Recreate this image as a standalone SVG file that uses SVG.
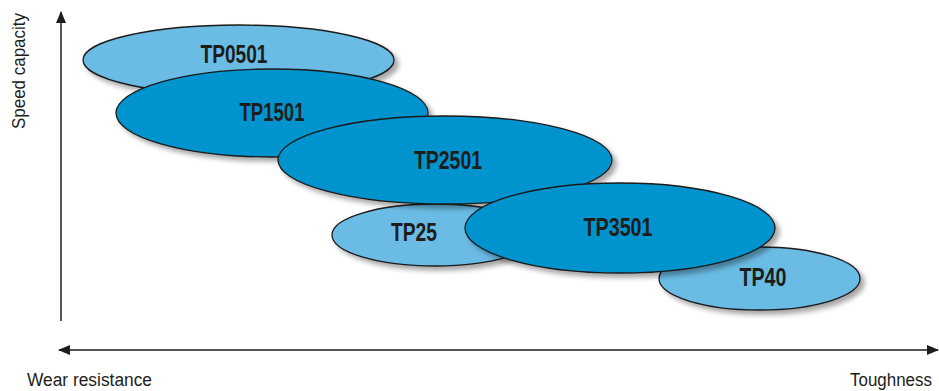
<svg xmlns="http://www.w3.org/2000/svg" width="939" height="391" viewBox="0 0 939 391">
<style>
.light{fill:#6bbce5;stroke:#1a1a1a;stroke-width:1.3}
.dark{fill:#0094cf;stroke:#1a1a1a;stroke-width:1.3}
.lbl{font-family:"Liberation Sans",Arial,sans-serif;font-weight:bold;font-size:25px;fill:#1d1d1b;text-anchor:middle}
.ax{font-family:"Liberation Sans",Arial,sans-serif;font-size:18px;fill:#1d1d1b}
.axis{stroke:#1d1d1b;stroke-width:1.5;fill:none}
</style>
<defs>
<filter id="sh" x="-10%" y="-20%" width="125%" height="150%">
<feDropShadow dx="4" dy="4" stdDeviation="2.5" flood-color="#000" flood-opacity="0.35"/>
</filter>
<marker id="ah" viewBox="0 0 12 10" refX="11" refY="5" markerWidth="12" markerHeight="10" markerUnits="userSpaceOnUse" orient="auto-start-reverse">
<path d="M0,0 L12,5 L0,10 Z" fill="#1d1d1b"/>
</marker>
</defs>
<g id="connectors">
<line class="axis" x1="61" y1="321" x2="61" y2="12" marker-end="url(#ah)"/>
<line class="axis" x1="59" y1="350" x2="938" y2="350" marker-start="url(#ah)" marker-end="url(#ah)"/>
</g>
<text class="ax" transform="translate(25,129) rotate(-90)" textLength="116" lengthAdjust="spacingAndGlyphs">Speed capacity</text>
<text class="ax" x="27" y="386" textLength="125" lengthAdjust="spacingAndGlyphs">Wear resistance</text>
<text class="ax" x="850" y="386" textLength="82" lengthAdjust="spacingAndGlyphs">Toughness</text>
<g id="TP0501">
<ellipse class="light" filter="url(#sh)" cx="238.5" cy="60" rx="155.5" ry="35"/>
<text class="lbl" x="234" y="63" textLength="67" lengthAdjust="spacingAndGlyphs">TP0501</text>
</g>
<g id="TP1501">
<ellipse class="dark" filter="url(#sh)" cx="272" cy="113" rx="156" ry="44"/>
<text class="lbl" x="272" y="121" textLength="65" lengthAdjust="spacingAndGlyphs">TP1501</text>
</g>
<g id="TP25">
<ellipse class="light" filter="url(#sh)" cx="435" cy="235" rx="103" ry="31"/>
<text class="lbl" x="414" y="241" textLength="46" lengthAdjust="spacingAndGlyphs">TP25</text>
</g>
<g id="TP40">
<ellipse class="light" filter="url(#sh)" cx="759.5" cy="278.5" rx="100.5" ry="31.5"/>
<text class="lbl" x="763" y="286" textLength="47" lengthAdjust="spacingAndGlyphs">TP40</text>
</g>
<g id="TP2501">
<ellipse class="dark" filter="url(#sh)" cx="445" cy="160" rx="167" ry="44"/>
<text class="lbl" x="448" y="169" textLength="68" lengthAdjust="spacingAndGlyphs">TP2501</text>
</g>
<g id="TP3501">
<ellipse class="dark" filter="url(#sh)" cx="620" cy="228" rx="155" ry="45"/>
<text class="lbl" x="618" y="236" textLength="69" lengthAdjust="spacingAndGlyphs">TP3501</text>
</g>
</svg>
